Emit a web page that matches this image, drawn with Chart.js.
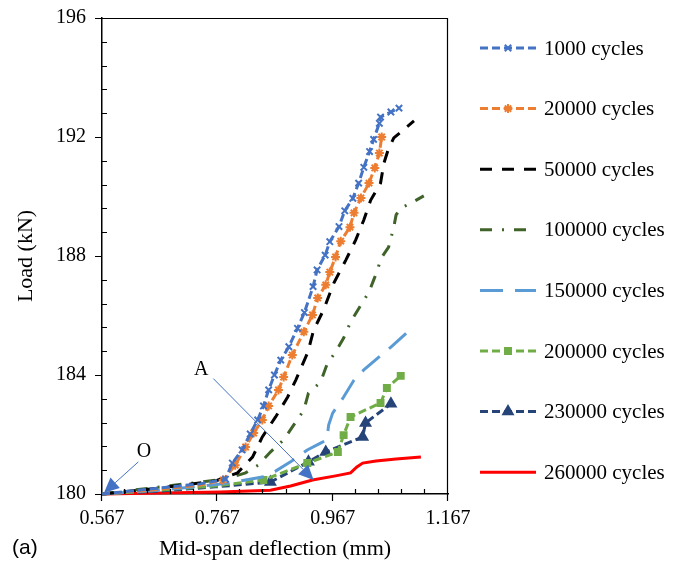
<!DOCTYPE html>
<html>
<head>
<meta charset="utf-8">
<script src="https://cdn.jsdelivr.net/npm/chart.js@4"></script>
<style>
  html, body { margin: 0; padding: 0; background: #fff; }
  canvas { display: block; }
</style>
</head>
<body>
<canvas id="loadChart" width="682" height="563"></canvas>
<script>
// Mid-span deflection (mm) and load (kN)
const defl1000 = [0.567, 0.650, 0.737, 0.781, 0.793, 0.810, 0.824, 0.837, 0.847, 0.856, 0.866, 0.877, 0.891, 0.906, 0.918, 0.933, 0.940, 0.954, 0.962, 0.978, 0.988, 1.002, 1.012, 1.021, 1.031, 1.038, 1.048, 1.050, 1.068, 1.082];
const load1000 = [180, 180.17, 180.34, 180.5, 181.04, 181.48, 182.02, 182.49, 182.96, 183.5, 184.0, 184.5, 184.95, 185.57, 186.1, 186.97, 187.53, 188.03, 188.48, 188.99, 189.52, 189.94, 190.45, 190.98, 191.51, 191.92, 192.46, 192.67, 192.84, 192.97];

const defl20000 = [0.567, 0.650, 0.737, 0.777, 0.798, 0.816, 0.830, 0.845, 0.856, 0.873, 0.882, 0.897, 0.917, 0.932, 0.941, 0.955, 0.962, 0.972, 0.981, 0.997, 1.004, 1.016, 1.030, 1.040, 1.048, 1.052];
const load20000 = [180, 180.13, 180.3, 180.47, 180.97, 181.58, 182.05, 182.49, 182.96, 183.5, 183.93, 184.67, 185.45, 186.02, 186.59, 187.03, 187.46, 187.97, 188.5, 188.97, 189.45, 189.95, 190.45, 190.96, 191.46, 192.0];

const defl50000 = [0.567, 0.668, 0.764, 0.802, 0.828, 0.845, 0.868, 0.889, 0.903, 0.924, 0.934, 0.951, 0.969, 0.990, 1.007, 1.021, 1.033, 1.050, 1.056, 1.063, 1.073, 1.108];
const load50000 = [180, 180.2, 180.44, 180.71, 181.24, 181.92, 182.59, 183.26, 183.83, 184.77, 185.51, 186.18, 187.09, 187.87, 188.54, 189.21, 189.88, 190.45, 191.13, 191.56, 191.97, 192.54];

const defl100000 = [0.567, 0.668, 0.781, 0.816, 0.838, 0.859, 0.882, 0.903, 0.917, 0.925, 0.946, 0.958, 0.972, 0.986, 0.998, 1.016, 1.030, 1.038, 1.045, 1.050, 1.064, 1.073, 1.077, 1.085, 1.103, 1.125];
const load100000 = [180, 180.24, 180.5, 180.71, 180.97, 181.41, 181.82, 182.42, 182.82, 183.39, 183.76, 184.4, 184.77, 185.24, 185.78, 186.35, 186.79, 187.19, 187.53, 187.9, 188.3, 188.97, 189.38, 189.61, 189.78, 190.02];

const defl150000 = [0.567, 0.668, 0.777, 0.845, 0.868, 0.894, 0.923, 0.946, 0.957, 0.960, 0.967, 0.986, 1.004, 1.021, 1.045, 1.068, 1.097];
const load150000 = [180, 180.13, 180.34, 180.57, 180.77, 181.08, 181.48, 181.71, 181.82, 182.32, 182.72, 183.26, 183.83, 184.17, 184.57, 184.94, 185.45];

const defl200000 = [0.567, 0.668, 0.764, 0.847, 0.923, 0.976, 0.986, 0.998, 1.050, 1.061, 1.085];
const load200000 = [180, 180.13, 180.27, 180.47, 181.04, 181.41, 181.98, 182.59, 183.06, 183.56, 183.97];

const defl230000 = [0.567, 0.668, 0.764, 0.859, 0.925, 0.955, 1.019, 1.024, 1.068];
const load230000 = [180, 180.1, 180.24, 180.4, 181.08, 181.41, 181.92, 182.39, 183.03];

const defl260000 = [0.567, 0.668, 0.772, 0.859, 0.894, 0.932, 0.972, 0.998, 1.009, 1.019, 1.042, 1.077, 1.120];
const load260000 = [180, 180.03, 180.07, 180.13, 180.27, 180.47, 180.61, 180.71, 180.91, 181.04, 181.11, 181.18, 181.24];

const seriesLabels = ['1000 cycles', '20000 cycles', '50000 cycles', '100000 cycles',
  '150000 cycles', '200000 cycles', '230000 cycles', '260000 cycles'];

// axis ticks
const xMajorTicks = [0.567, 0.767, 0.967, 1.167];
const yMajorTicks = [180, 184, 188, 192, 196];
const minorPerMajor = 5;

// callouts: label, text position, arrow start, arrow tip (data units)
const noteLabels = ['O', 'A'];
const noteTextX = [0.640, 0.739];
const noteTextY = [181.41, 184.17];
const noteFromX = [0.630, 0.760];
const noteFromY = [181.08, 183.88];
const noteToX = [0.5705, 0.934];
const noteToY = [180.04, 180.47];

const serif = "'Liberation Serif', 'Times New Roman', serif";

function toPoints(xs, ys) {
    return xs.map((x, i) => ({ x: x, y: ys[i] }));
}

// no markers on the flat start of each curve
function markerSize(size) {
    return function(ctx) {
        return ctx.raw && ctx.raw.x < 0.77 ? 0 : size;
    };
}

function makeSeries(i, xs, ys, color, dash, style, size) {
    return {
        label: seriesLabels[i],
        data: toPoints(xs, ys),
        showLine: true,
        borderColor: color,
        backgroundColor: color,
        borderWidth: 3,
        borderDash: dash,
        pointStyle: style || 'circle',
        pointRadius: style ? markerSize(size) : 0,
        pointHoverRadius: 0,
        pointBorderWidth: 2,
        pointBackgroundColor: color,
        pointBorderColor: color,
        markerSize: style ? size : 0,
        tension: 0,
        clip: false
    };
}

const datasets = [
    makeSeries(0, defl1000, load1000, '#4472C4', [8, 4], 'crossRot', 4.5),
    makeSeries(1, defl20000, load20000, '#ED7D31', [8, 4], 'star', 4.5),
    makeSeries(2, defl50000, load50000, '#000000', [12, 10]),
    makeSeries(3, defl100000, load100000, '#3F6329', [12, 10, 2, 10]),
    makeSeries(4, defl150000, load150000, '#5B9BD5', [23, 12]),
    makeSeries(5, defl200000, load200000, '#70AD47', [8, 4], 'rect', 4.2),
    makeSeries(6, defl230000, load230000, '#264478', [8, 4], 'triangle', 5.5),
    makeSeries(7, defl260000, load260000, '#FF0000', [])
];

// major ticks cross outward, minor ticks point inward, plus the plot frame
const frameAndTicks = {
    id: 'frameAndTicks',
    afterDatasetsDraw(chart) {
        const { ctx, chartArea: a, scales } = chart;
        const xs = scales.x, ys = scales.y;
        ctx.save();
        ctx.strokeStyle = '#000';
        ctx.lineWidth = 1.2;
        ctx.beginPath();
        ctx.moveTo(a.left, a.top + 0.5);
        ctx.lineTo(a.right - 0.5, a.top + 0.5);
        ctx.lineTo(a.right - 0.5, a.bottom);
        for (let i = 0; i < xMajorTicks.length; i++) {
            const px = Math.round(xs.getPixelForValue(xMajorTicks[i])) - 0.5;
            ctx.moveTo(px, a.bottom);
            ctx.lineTo(px, a.bottom + 7);
            if (i < xMajorTicks.length - 1) {
                const step = (xMajorTicks[i + 1] - xMajorTicks[i]) / minorPerMajor;
                for (let k = 1; k < minorPerMajor; k++) {
                    const mx = Math.round(xs.getPixelForValue(xMajorTicks[i] + k * step)) - 0.5;
                    ctx.moveTo(mx, a.bottom);
                    ctx.lineTo(mx, a.bottom - 5);
                }
            }
        }
        for (let i = 0; i < yMajorTicks.length; i++) {
            const py = Math.round(ys.getPixelForValue(yMajorTicks[i])) + 0.5;
            ctx.moveTo(a.left, py);
            ctx.lineTo(a.left - 7, py);
            if (i < yMajorTicks.length - 1) {
                const step = (yMajorTicks[i + 1] - yMajorTicks[i]) / minorPerMajor;
                for (let k = 1; k < minorPerMajor; k++) {
                    const my = Math.round(ys.getPixelForValue(yMajorTicks[i] + k * step)) + 0.5;
                    ctx.moveTo(a.left, my);
                    ctx.lineTo(a.left + 5, my);
                }
            }
        }
        ctx.stroke();
        ctx.restore();
    }
};

// "O" and "A" callouts with arrow heads
const callouts = {
    id: 'callouts',
    afterDatasetsDraw(chart) {
        const { ctx, scales } = chart;
        const xs = scales.x, ys = scales.y;
        ctx.save();
        noteLabels.forEach((txt, i) => {
            const x0 = xs.getPixelForValue(noteFromX[i]), y0 = ys.getPixelForValue(noteFromY[i]);
            const x1 = xs.getPixelForValue(noteToX[i]), y1 = ys.getPixelForValue(noteToY[i]);
            const ang = Math.atan2(y1 - y0, x1 - x0);
            const headLen = 15, headW = 7;
            const bx = x1 - headLen * Math.cos(ang), by = y1 - headLen * Math.sin(ang);
            ctx.strokeStyle = '#4472C4';
            ctx.fillStyle = '#4472C4';
            ctx.lineWidth = 1;
            ctx.beginPath();
            ctx.moveTo(x0, y0);
            ctx.lineTo(bx, by);
            ctx.stroke();
            ctx.beginPath();
            ctx.moveTo(x1, y1);
            ctx.lineTo(bx + headW * Math.sin(ang), by - headW * Math.cos(ang));
            ctx.lineTo(bx - headW * Math.sin(ang), by + headW * Math.cos(ang));
            ctx.closePath();
            ctx.fill();
            ctx.fillStyle = '#000';
            ctx.font = '20px ' + serif;
            ctx.textAlign = 'center';
            ctx.textBaseline = 'middle';
            ctx.fillText(txt, xs.getPixelForValue(noteTextX[i]), ys.getPixelForValue(noteTextY[i]));
        });
        ctx.restore();
    }
};

// legend stacked on the right, plus the panel tag
const sideLegend = {
    id: 'sideLegend',
    afterDraw(chart) {
        const ctx = chart.ctx;
        ctx.save();
        chart.data.datasets.forEach((ds, i) => {
            const yy = 48 + i * 60.6;
            ctx.strokeStyle = ds.borderColor;
            ctx.lineWidth = ds.borderWidth;
            ctx.setLineDash(ds.borderDash);
            ctx.beginPath();
            ctx.moveTo(480, yy);
            ctx.lineTo(536, yy);
            ctx.stroke();
            ctx.setLineDash([]);
            if (ds.markerSize) {
                ctx.fillStyle = ds.borderColor;
                ctx.lineWidth = 2;
                Chart.helpers.drawPoint(ctx, { pointStyle: ds.pointStyle, radius: ds.markerSize, rotation: 0, borderWidth: 2 }, 508, yy);
            }
            ctx.fillStyle = '#000';
            ctx.font = '21px ' + serif;
            ctx.textAlign = 'left';
            ctx.textBaseline = 'middle';
            ctx.fillText(ds.label, 544, yy + 1);
        });
        ctx.fillStyle = '#000';
        ctx.font = "21px 'Liberation Sans', Arial, sans-serif";
        ctx.textAlign = 'left';
        ctx.textBaseline = 'alphabetic';
        ctx.fillText('(a)', 12, 554);
        ctx.restore();
    }
};

const chart = new Chart(document.getElementById('loadChart').getContext('2d'), {
    type: 'scatter',
    data: { datasets: datasets },
    options: {
        responsive: false,
        animation: false,
        devicePixelRatio: 1,
        layout: { padding: { left: 0, top: 18, right: 234, bottom: 0 } },
        plugins: { legend: { display: false }, tooltip: { enabled: false } },
        scales: {
            x: {
                type: 'linear',
                min: 0.567,
                max: 1.167,
                grid: { display: false, drawTicks: false },
                border: { display: true, color: '#000', width: 1.5 },
                afterBuildTicks: (scale) => { scale.ticks = xMajorTicks.map(v => ({ value: v })); },
                afterFit: (scale) => {
                    scale.height = 69;
                    scale.paddingLeft = 0;
                    scale.paddingRight = 0;
                },
                ticks: {
                    color: '#000',
                    padding: 13,
                    autoSkip: false,
                    maxRotation: 0,
                    font: { family: serif, size: 20 },
                    callback: (v) => v.toFixed(3)
                },
                title: {
                    display: true,
                    text: 'Mid-span deflection (mm)',
                    color: '#000',
                    font: { family: serif, size: 22 },
                    padding: { top: 0, bottom: 1 }
                }
            },
            y: {
                type: 'linear',
                min: 180,
                max: 196,
                grid: { display: false, drawTicks: false },
                border: { display: true, color: '#000', width: 1.5 },
                afterBuildTicks: (scale) => { scale.ticks = yMajorTicks.map(v => ({ value: v })); },
                afterFit: (scale) => {
                    scale.width = 102;
                    scale.paddingTop = 0;
                    scale.paddingBottom = 0;
                },
                ticks: {
                    color: '#000',
                    padding: 16,
                    autoSkip: false,
                    font: { family: serif, size: 20 },
                    callback: (v) => String(v)
                },
                title: {
                    display: true,
                    text: 'Load (kN)',
                    color: '#000',
                    font: { family: serif, size: 22 },
                    padding: { top: 13, bottom: 0 }
                }
            }
        }
    },
    plugins: [frameAndTicks, callouts, sideLegend]
});
</script>
</body>
</html>
